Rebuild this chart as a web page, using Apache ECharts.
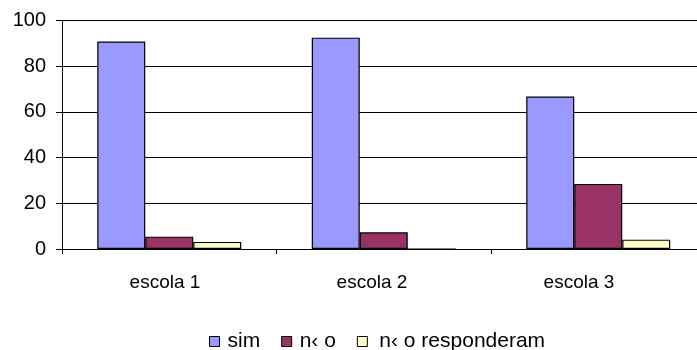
<!DOCTYPE html>
<html>
<head>
<meta charset="utf-8">
<script src="https://cdn.jsdelivr.net/npm/echarts@6/dist/echarts.min.js"></script>
<style>
  html, body { margin: 0; padding: 0; background: #fff; }
  #chart { width: 697px; height: 350px; }
</style>
</head>
<body>
<div id="chart"></div>
<script>
const categories = ['escola 1', 'escola 2', 'escola 3'];
const seriesNames = ['sim', 'n\u2039 o', 'n\u2039 o responderam'];
const simValues = [90.8, 92.5, 66.7];
const naoValues = [5.4, 7.3, 28.5];
const naoResponderamValues = [3.1, 0, 4.1];
const yTicks = [0, 20, 40, 60, 80, 100];

const colors = ['#9999FF', '#993366', '#FFFFCC'];
const font = '"Liberation Sans", Arial, sans-serif';

const chart = echarts.init(document.getElementById('chart'), null, { renderer: 'canvas' });

const seriesData = [simValues, naoValues, naoResponderamValues];

chart.setOption({
  animation: false,
  backgroundColor: '#ffffff',
  grid: [
    // plot area
    { left: 62, right: -8.5, top: 20.5, bottom: 101, containLabel: false, outerBoundsMode: 'none' },
    // band that carries the category captions (spaced slightly tighter than the bars)
    { left: 61.5, right: 14.5, top: 20.5, bottom: 101, containLabel: false, outerBoundsMode: 'none' }
  ],
  legend: {
    bottom: -7,
    left: 204,
    icon: 'rect',
    itemWidth: 10,
    itemHeight: 10,
    itemGap: 21,
    textStyle: { fontFamily: font, fontSize: 21, color: '#000', padding: [0, 0, 0, 3] },
    data: seriesNames.map((n, i) => ({
      name: n,
      itemStyle: { color: colors[i], borderColor: '#000', borderWidth: 1 },
      textStyle: i === 2 ? { padding: [0, 0, 0, 7] } : undefined
    }))
  },
  xAxis: [
    {
      type: 'category',
      gridIndex: 0,
      data: categories,
      axisLine: { lineStyle: { color: '#000', width: 1 } },
      axisTick: { show: true, length: 5, lineStyle: { color: '#000' } },
      axisLabel: { show: false }
    },
    {
      type: 'category',
      gridIndex: 1,
      data: categories,
      axisLine: { show: false },
      axisTick: { show: false },
      splitLine: { show: false },
      axisLabel: { fontFamily: font, fontSize: 19, color: '#000', margin: 24 }
    }
  ],
  yAxis: [
    {
      type: 'value',
      gridIndex: 0,
      min: yTicks[0],
      max: yTicks[yTicks.length - 1],
      interval: 20,
      axisLine: { show: true, lineStyle: { color: '#000', width: 1 } },
      axisTick: { show: true, length: 6, lineStyle: { color: '#000' } },
      axisLabel: { fontFamily: font, fontSize: 20, color: '#000', margin: 16 },
      splitLine: { show: true, lineStyle: { color: '#000', width: 1 } }
    },
    {
      type: 'value',
      gridIndex: 1,
      min: yTicks[0],
      max: yTicks[yTicks.length - 1],
      show: false
    }
  ],
  series: seriesNames.map((n, i) => ({
    name: n,
    type: 'bar',
    xAxisIndex: 0,
    yAxisIndex: 0,
    data: seriesData[i],
    barWidth: 48,
    barGap: '0%',
    itemStyle: { color: colors[i], borderColor: '#000', borderWidth: 1.2 }
  }))
});
</script>
</body>
</html>
